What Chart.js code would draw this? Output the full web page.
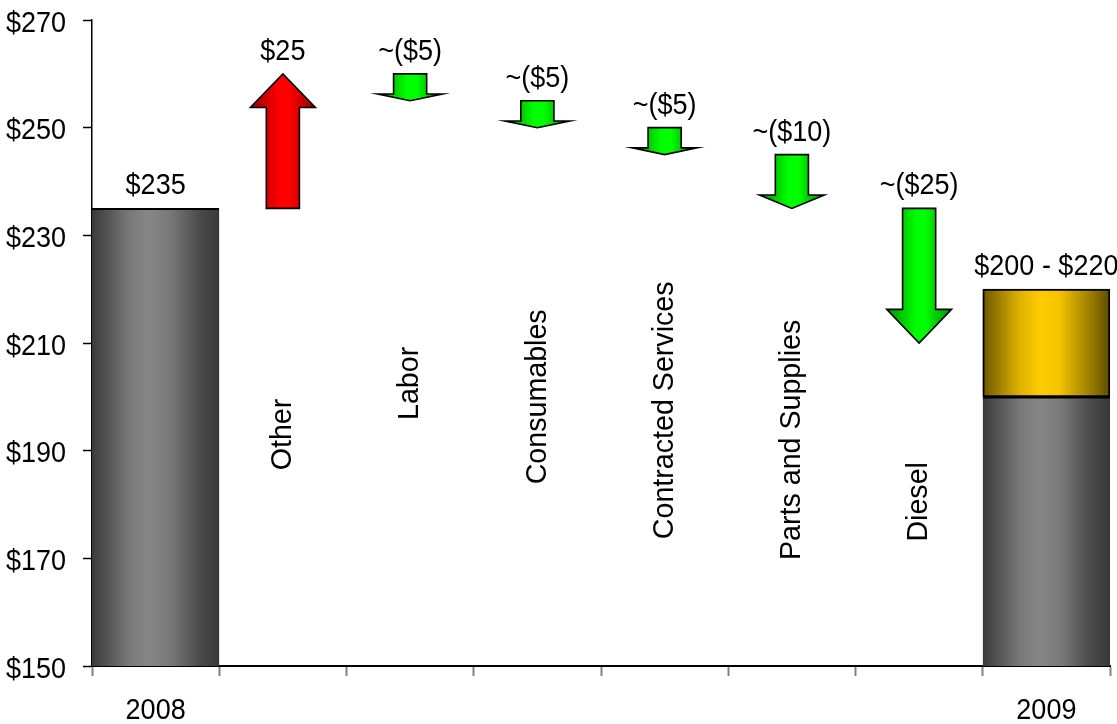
<!DOCTYPE html>
<html>
<head>
<meta charset="utf-8">
<script src="https://cdn.jsdelivr.net/npm/chart.js@4.4.1/dist/chart.umd.min.js"></script>
<style>
  html, body { margin: 0; padding: 0; background: #fff; }
  #wrap { width: 1117px; height: 724px; }
</style>
</head>
<body>
<div id="wrap"><canvas id="costChart"></canvas></div>
<script>
// cost bridge, 2008 -> 2009 ($)
const categories = ['2008', 'Other', 'Labor', 'Consumables', 'Contracted Services', 'Parts and Supplies', 'Diesel', '2009'];
const axisLabels = ['2008', '', '', '', '', '', '', '2009'];
const yTicks = [150, 170, 190, 210, 230, 250, 270];

// year totals
const totals = [235, null, null, null, null, null, null, 200];
// 2009 range on top of the low estimate
const rangeLow = [null, null, null, null, null, null, null, 200];
const rangeHigh = [null, null, null, null, null, null, null, 220];
// each driver moves the total from -> to
const stepFrom = [null, 235, 260, 255, 250, 245, 235, null];
const stepTo = [null, 260, 255, 250, 245, 235, 210, null];

// where the rotated driver names sit (axis units)
const nameAt = [null, 193, 202.5, 200, 197.5, 192, 180.5, null];

const FLOOR = 150;
const FONT = "'Liberation Sans', Arial, sans-serif";
const TEXT = '27px ' + FONT;
const TALL = 1.1;   // text is drawn a little taller than the font
Chart.defaults.font.family = FONT;

const grayStops = [[0, '#3a3a3a'], [0.3, '#7a7a7a'], [0.45, '#868686'], [0.62, '#787878'], [0.85, '#4a4a4a'], [1, '#383838']];
const goldStops = [[0, '#6b5600'], [0.28, '#dcb000'], [0.45, '#ffcc00'], [0.6, '#f5c400'], [0.85, '#9a7c00'], [1, '#5e4c00']];

// horizontal shading across one category slot
function bandFill(stops) {
  return (c) => {
    const chart = c.chart;
    const xs = chart.scales && chart.scales.x;
    if (!chart.chartArea || !xs || c.dataIndex == null) return stops[2][1];
    const half = (xs.right - xs.left) / categories.length / 2;
    const cx = xs.getPixelForValue(c.dataIndex);
    const g = chart.ctx.createLinearGradient(cx - half, 0, cx + half, 0);
    stops.forEach(([o, col]) => g.addColorStop(o, col));
    return g;
  };
}

function arrowFill(ctx, left, right, up) {
  const g = ctx.createLinearGradient(left, 0, right, 0);
  const dark = up ? '#8c0000' : '#009000';
  const mid = up ? '#d80000' : '#00d000';
  const lit = up ? '#ff0000' : '#00ff00';
  g.addColorStop(0, dark);
  g.addColorStop(0.27, mid);
  g.addColorStop(0.45, lit);
  g.addColorStop(0.6, lit);
  g.addColorStop(0.75, mid);
  g.addColorStop(1, dark);
  return g;
}

// text on an alphabetic baseline, stretched upward
function tallText(ctx, text, x, y, align) {
  ctx.save();
  ctx.translate(x, y);
  ctx.scale(1, TALL);
  ctx.font = TEXT;
  ctx.textAlign = align;
  ctx.textBaseline = 'alphabetic';
  ctx.fillText(text, 0, 0);
  ctx.restore();
}

// draws the driver arrows on top of the (invisible) floating bars
const arrowPlugin = {
  id: 'arrows',
  afterDatasetsDraw(chart) {
    const ctx = chart.ctx;
    const ys = chart.scales.y;
    const meta = chart.getDatasetMeta(2);
    meta.data.forEach((bar, i) => {
      if (stepFrom[i] == null) return;
      const cx = bar.x, w = bar.width;
      const y0 = ys.getPixelForValue(stepFrom[i]);
      const y1 = ys.getPixelForValue(stepTo[i]);
      const up = stepTo[i] > stepFrom[i];
      const dir = Math.sign(y1 - y0);
      const headLen = Math.abs(y1 - y0) * 0.25;
      const yHead = y1 - dir * headLen;
      const sh = w * 0.13, hh = w * 0.255;
      ctx.save();
      ctx.beginPath();
      ctx.moveTo(cx - sh, y0);
      ctx.lineTo(cx - sh, yHead);
      ctx.lineTo(cx - hh, yHead);
      ctx.lineTo(cx, y1);
      ctx.lineTo(cx + hh, yHead);
      ctx.lineTo(cx + sh, yHead);
      ctx.lineTo(cx + sh, y0);
      ctx.closePath();
      ctx.fillStyle = arrowFill(ctx, cx - hh, cx + hh, up);
      ctx.fill();
      ctx.lineWidth = 1.6;
      ctx.strokeStyle = '#000';
      ctx.lineJoin = 'miter';
      ctx.stroke();
      ctx.restore();
    });
  }
};

// axis tick labels, value labels and the rotated driver names
const labelPlugin = {
  id: 'labels',
  afterDatasetsDraw(chart) {
    const ctx = chart.ctx;
    const xs = chart.scales.x, ys = chart.scales.y;
    ctx.save();
    ctx.fillStyle = '#000';

    yTicks.forEach(v => {
      tallText(ctx, '$' + v, ys.right - 26, ys.getPixelForValue(v) + 11.5, 'right');
    });
    axisLabels.forEach((t, i) => {
      if (t) tallText(ctx, t, xs.getPixelForValue(i), xs.top + 53, 'center');
    });

    categories.forEach((name, i) => {
      const cx = xs.getPixelForValue(i);
      let text, top;
      if (stepFrom[i] != null) {
        const d = stepTo[i] - stepFrom[i];
        text = d > 0 ? '$' + d : '~($' + (-d) + ')';
        top = Math.max(stepFrom[i], stepTo[i]);
      } else if (rangeHigh[i] != null) {
        text = '$' + rangeLow[i] + ' - $' + rangeHigh[i];
        top = rangeHigh[i];
      } else {
        text = '$' + totals[i];
        top = totals[i];
      }
      tallText(ctx, text, cx, ys.getPixelForValue(top) - 14, 'center');

      if (nameAt[i] != null) {
        ctx.save();
        ctx.translate(cx, ys.getPixelForValue(nameAt[i]));
        ctx.rotate(-Math.PI / 2);
        ctx.scale(1.06, 1.12);
        ctx.font = TEXT;
        ctx.textAlign = 'center';
        ctx.textBaseline = 'middle';
        ctx.fillText(name, 0, 0);
        ctx.restore();
      }
    });
    ctx.restore();
  }
};

new Chart(document.getElementById('costChart'), {
  type: 'bar',
  data: {
    labels: categories,
    datasets: [
      {
        label: '2009 range',
        data: rangeLow.map((v, i) => v == null ? null : [v, rangeHigh[i]]),
        backgroundColor: bandFill(goldStops),
        borderColor: '#000',
        borderWidth: 2,
        borderSkipped: false,
        order: 0
      },
      {
        label: 'Total',
        data: totals.map(v => v == null ? null : [FLOOR, v]),
        backgroundColor: bandFill(grayStops),
        borderColor: '#000',
        borderWidth: { top: 2, right: 0, bottom: 0, left: 0 },
        borderSkipped: false,
        order: 1
      },
      {
        label: 'Change',
        data: stepFrom.map((v, i) => v == null ? null : [v, stepTo[i]]),
        backgroundColor: 'rgba(0,0,0,0)',
        borderWidth: 0,
        order: 2
      }
    ]
  },
  options: {
    responsive: true,
    maintainAspectRatio: false,
    animation: false,
    barPercentage: 1,
    categoryPercentage: 1,
    layout: { padding: { top: 20, right: 7, bottom: 0, left: 0 } },
    scales: {
      x: {
        stacked: true,
        afterFit(scale) {
          scale.height = 58;
          scale.paddingLeft = 0;
          scale.paddingRight = 0;
        },
        ticks: { display: false, autoSkip: false },
        grid: { offset: true, drawOnChartArea: false, tickLength: 10, tickColor: '#808080', tickWidth: 2 },
        border: { color: '#000', width: 2 }
      },
      y: {
        min: 150,
        max: 270,
        afterFit(scale) {
          scale.width = 92;
          scale.paddingTop = 0;
          scale.paddingBottom = 0;
        },
        afterBuildTicks(scale) { scale.ticks = yTicks.map(v => ({ value: v })); },
        ticks: { display: false },
        grid: { drawOnChartArea: false, tickLength: 9, tickColor: '#000', tickWidth: 1.5 },
        border: { color: '#000', width: 1.5 }
      }
    },
    plugins: {
      legend: { display: false },
      tooltip: { enabled: false }
    }
  },
  plugins: [arrowPlugin, labelPlugin]
});
</script>
</body>
</html>
